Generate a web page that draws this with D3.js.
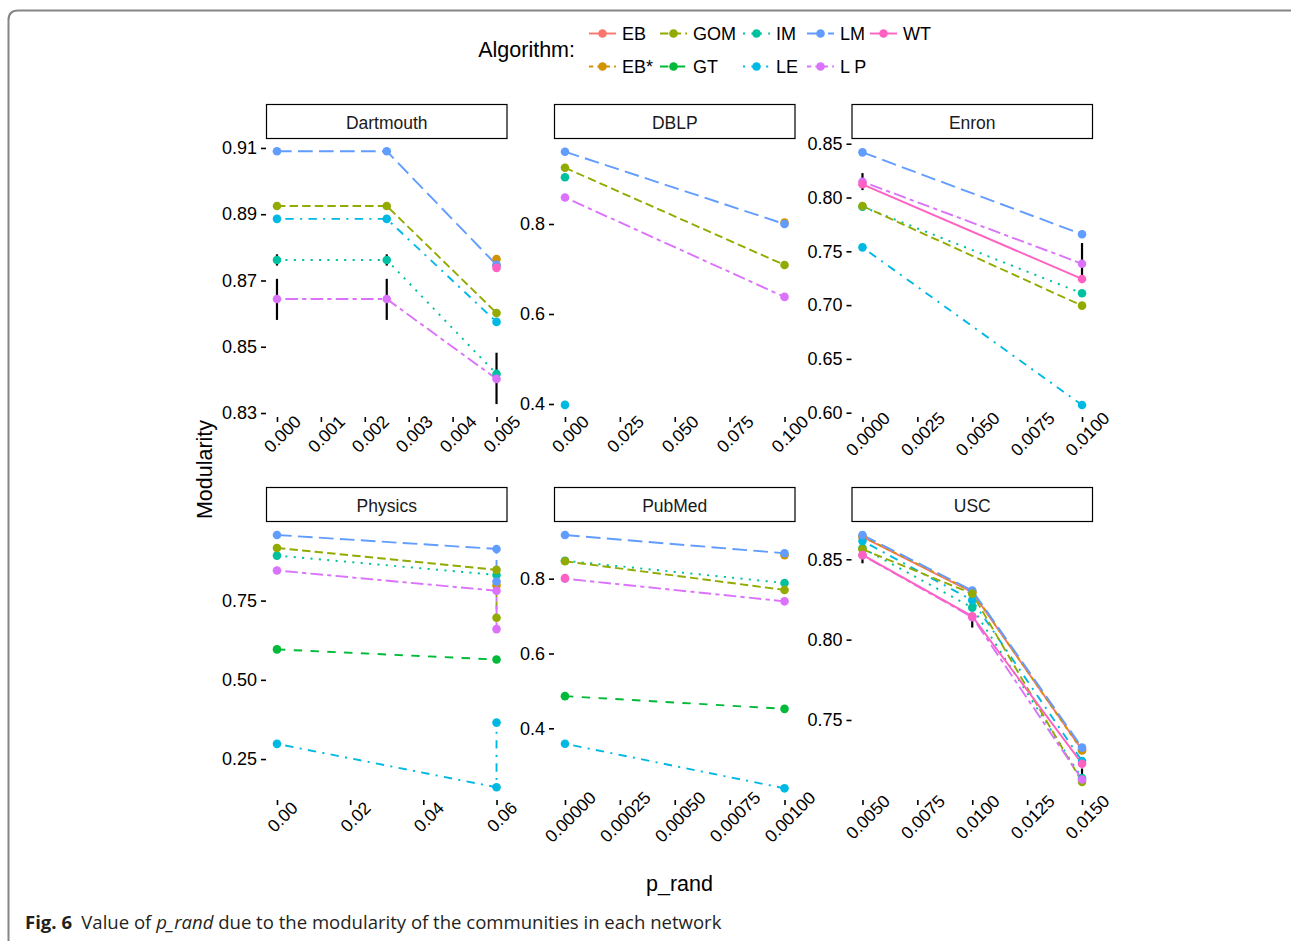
<!DOCTYPE html>
<html><head><meta charset="utf-8">
<script src="https://cdn.jsdelivr.net/npm/d3@7"></script>
<style>html,body{margin:0;padding:0;background:#fff;}</style>
</head><body>
<script>
// ---------- data ----------
const algorithms = ["EB","EB*","GOM","GT","IM","LE","LM","LP","WT"];
const algColors  = ["#F8766D","#D39200","#93AA00","#00BA38","#00C19F","#00B9E3","#619CFF","#DB72FB","#FF61C3"];
const algDash    = ["", "2 2", "4 2", "4 4", "1 3", "1 3 4 3", "7 3", "2 2 6 2", ""];
const drawOrder  = ["EB","EB*","GT","IM","LE","LM","GOM","LP","WT"];

const panelNames = ["Dartmouth","DBLP","Enron","Physics","PubMed","USC"];

const dartmouthSeries = [
  ["LM",  [[0,0.909],[0.0025,0.909],[0.005,0.8747]]],
  ["GOM", [[0,0.8925],[0.0025,0.8925],[0.005,0.8602]]],
  ["LE",  [[0,0.8886],[0.0025,0.8886],[0.005,0.8575]]],
  ["IM",  [[0,0.8762],[0.0025,0.8762],[0.005,0.8418]]],
  ["LP",  [[0,0.8644],[0.0025,0.8644],[0.005,0.8403]]],
  ["EB*", [[0.005,0.8765]]],
  ["EB",  [[0.005,0.8745]]],
  ["WT",  [[0.005,0.8738]]]
];
const dartmouthErr = [[0,0.8745,0.8779],[0,0.8581,0.8705],[0.0025,0.8745,0.8779],[0.0025,0.8581,0.8705],[0.005,0.8327,0.8482]];

const dblpSeries = [
  ["LM",  [[0,0.9607],[0.1,0.800]]],
  ["EB*", [[0.1,0.803]]],
  ["GOM", [[0,0.925],[0.1,0.709]]],
  ["IM",  [[0,0.904]]],
  ["LP",  [[0,0.859],[0.1,0.638]]],
  ["LE",  [[0,0.398]]]
];
const dblpErr = [[0.1,0.632,0.646]];

const enronSeries = [
  ["LM",  [[0,0.842],[0.01,0.7658]]],
  ["LP",  [[0,0.8147],[0.01,0.7385]]],
  ["WT",  [[0,0.8123],[0.01,0.7243]]],
  ["IM",  [[0,0.7915],[0.01,0.711]]],
  ["GOM", [[0,0.7921],[0.01,0.6995]]],
  ["LE",  [[0,0.7537],[0.01,0.6071]]]
];
const enronErr = [[0,0.8069,0.8227],[0.01,0.7205,0.7577]];

const physicsSeries = [
  ["LM",  [[0,0.957],[0.06,0.913],[0.06,0.81]]],
  ["GOM", [[0,0.916],[0.06,0.847],[0.06,0.696]]],
  ["IM",  [[0,0.892],[0.06,0.831]]],
  ["LP",  [[0,0.845],[0.06,0.781],[0.06,0.66]]],
  ["GT",  [[0,0.596],[0.06,0.564]]],
  ["LE",  [[0,0.298],[0.06,0.161],[0.06,0.365]]],
  ["EB*", [[0.06,0.798]]]
];
const physicsErr = [];

const pubmedSeries = [
  ["LM",  [[0,0.9168],[0.001,0.868]]],
  ["EB*", [[0.001,0.863]]],
  ["GOM", [[0,0.8465],[0.001,0.770]]],
  ["IM",  [[0,0.848],[0.001,0.7885]]],
  ["LP",  [[0,0.800],[0.001,0.7395]]],
  ["WT",  [[0,0.802]]],
  ["GT",  [[0,0.486],[0.001,0.452]]],
  ["LE",  [[0,0.3588],[0.001,0.2395]]]
];
const pubmedErr = [];

const uscSeries = [
  ["EB",  [[0.005,0.8639],[0.01,0.8295],[0.015,0.7314]]],
  ["EB*", [[0.005,0.8642],[0.01,0.8300],[0.015,0.7310]]],
  ["LM",  [[0.005,0.8651],[0.01,0.8306],[0.015,0.7328]]],
  ["LE",  [[0.005,0.8614],[0.01,0.8245],[0.015,0.7245]]],
  ["GOM", [[0.005,0.8562],[0.01,0.8286],[0.015,0.7115]]],
  ["IM",  [[0.005,0.8570],[0.01,0.8199],[0.015,0.7138]]],
  ["WT",  [[0.005,0.8527],[0.01,0.8145],[0.015,0.7228]]],
  ["LP",  [[0.005,0.8525],[0.01,0.8140],[0.015,0.7130]]]
];
const uscErr = [[0.005,0.8475,0.8538],[0.01,0.8075,0.8143],[0.015,0.7142,0.7198]];

// axis limits and ticks per panel
const xDomains = [[-0.00025,0.00525],[-0.005,0.105],[-0.0005,0.0105],[-0.003,0.063],[-0.00005,0.00105],[0.0045,0.0155]];
const yDomains = [[0.8288,0.9127],[0.3711,0.9889],[0.596,0.8544],[0.1208,0.998],[0.2083,0.9516],[0.7002,0.8732]];
const xTickVals = [
  [0,0.001,0.002,0.003,0.004,0.005],
  [0,0.025,0.05,0.075,0.1],
  [0,0.0025,0.005,0.0075,0.01],
  [0,0.02,0.04,0.06],
  [0,0.00025,0.0005,0.00075,0.001],
  [0.005,0.0075,0.01,0.0125,0.015]
];
const xTickFmt = [".3f",".3f",".4f",".2f",".5f",".4f"];
const yTickVals = [
  [0.83,0.85,0.87,0.89,0.91],
  [0.4,0.6,0.8],
  [0.60,0.65,0.70,0.75,0.80,0.85],
  [0.25,0.50,0.75],
  [0.4,0.6,0.8],
  [0.75,0.80,0.85]
];
const yTickFmt = [".2f",".1f",".2f",".2f",".1f",".2f"];

const allSeries = [dartmouthSeries, dblpSeries, enronSeries, physicsSeries, pubmedSeries, uscSeries];
const allErr = [dartmouthErr, dblpErr, enronErr, physicsErr, pubmedErr, uscErr];

// ---------- layout ----------
const W = 1291, H = 941;
const colLeft = [266, 554, 851.5];
const panelW = 241.5;
const stripTop = [104, 487];
const stripH = 35;
const panelBottom = [417, 800];
const dashUnit = 2.1;
const lineW = 1.9;
const ptR = 4.3;
const FONT = "'Liberation Sans', Arial, sans-serif";

const colorOf = a => algColors[algorithms.indexOf(a)];
const dashOf = a => { const d = algDash[algorithms.indexOf(a)]; return d ? d.split(" ").map(v => +v * dashUnit).join(" ") : null; };

const svg = d3.select("body").append("svg").attr("width", W).attr("height", H)
  .style("font-family", FONT);

// outer frame (top + left, rounded corner)
svg.append("path")
  .attr("d", `M8.5,941 L8.5,20 Q8.5,10.5 18,10.5 L1291,10.5`)
  .attr("fill","none").attr("stroke","#858585").attr("stroke-width",2);

panelNames.forEach((name, i) => {
  const r = Math.floor(i / 3), c = i % 3;
  const x0 = colLeft[c], x1 = x0 + panelW;
  const yTop = stripTop[r] + stripH, yBot = panelBottom[r];
  const g = svg.append("g");

  // strip
  g.append("rect").attr("x", x0 + 0.5).attr("y", stripTop[r] + 0.5)
    .attr("width", panelW - 1).attr("height", stripH - 1)
    .attr("fill","#fff").attr("stroke","#000").attr("stroke-width",1.2);
  g.append("text").attr("x", (x0 + x1) / 2).attr("y", stripTop[r] + stripH / 2 + 1)
    .attr("text-anchor","middle").attr("dominant-baseline","central")
    .attr("font-size", 17.5).attr("fill","#1a1a1a").text(name);

  const xs = d3.scaleLinear().domain(xDomains[i]).range([x0, x1]);
  const ys = d3.scaleLinear().domain(yDomains[i]).range([yBot, yTop]);

  // y axis (ticks + labels, no axis line)
  const yAx = g.append("g").attr("transform", `translate(${x0},0)`)
    .call(d3.axisLeft(ys).tickValues(yTickVals[i]).tickFormat(d3.format(yTickFmt[i])).tickSize(5).tickPadding(4));
  yAx.select(".domain").remove();
  yAx.selectAll(".tick line").attr("stroke","#000").attr("stroke-width",1.6);
  yAx.selectAll(".tick text").attr("font-size", 18).attr("fill","#000").attr("font-family", FONT);

  // x axis
  const xAx = g.append("g").attr("transform", `translate(0,${yBot})`)
    .call(d3.axisBottom(xs).tickValues(xTickVals[i]).tickFormat(d3.format(xTickFmt[i])).tickSize(5));
  xAx.select(".domain").remove();
  xAx.selectAll(".tick line").attr("stroke","#000").attr("stroke-width",1.6);
  xAx.selectAll(".tick text")
    .attr("font-size", 17.5).attr("fill","#000").attr("font-family", FONT)
    .attr("text-anchor","middle").attr("dominant-baseline","central")
    .attr("x", 0).attr("y", 0).attr("dy", null)
    .attr("transform", "translate(5,17) rotate(-45)");

  const seriesMap = new Map(allSeries[i]);
  const ordered = drawOrder.filter(a => seriesMap.has(a));

  // lines
  const line = d3.line().x(d => xs(d[0])).y(d => ys(d[1]));
  ordered.forEach(a => {
    const pts = seriesMap.get(a);
    if (pts.length < 2) return;
    g.append("path").attr("d", line(pts)).attr("fill","none")
      .attr("stroke", colorOf(a)).attr("stroke-width", lineW)
      .attr("stroke-dasharray", dashOf(a)).attr("stroke-linecap","butt");
  });

  // error bars
  g.selectAll("line.err").data(allErr[i]).enter().append("line")
    .attr("x1", d => xs(d[0])).attr("x2", d => xs(d[0]))
    .attr("y1", d => ys(d[1])).attr("y2", d => ys(d[2]))
    .attr("stroke","#000").attr("stroke-width",2.2);

  // points
  ordered.forEach(a => {
    g.selectAll(null).data(seriesMap.get(a)).enter().append("circle")
      .attr("cx", d => xs(d[0])).attr("cy", d => ys(d[1])).attr("r", ptR)
      .attr("fill", colorOf(a));
  });
});

// axis titles
svg.append("text").attr("transform", "translate(212,469.5) rotate(-90)")
  .attr("text-anchor","middle").attr("font-size", 21.5).attr("fill","#000").text("Modularity");
svg.append("text").attr("x", 679.5).attr("y", 891)
  .attr("text-anchor","middle").attr("font-size", 21.5).attr("fill","#000").text("p_rand");

// legend
svg.append("text").attr("x", 575).attr("y", 50).attr("text-anchor","end")
  .attr("dominant-baseline","central").attr("font-size", 21.5).attr("fill","#000").text("Algorithm:");
const legCols = [589, 660, 743, 807, 870];
const legRows = [33.5, 66.5];
algorithms.forEach((a, k) => {
  const col = Math.floor(k / 2), row = k % 2;
  const kx = legCols[col], ky = legRows[row];
  const lg = svg.append("g");
  lg.append("line").attr("x1", kx).attr("x2", kx + 27).attr("y1", ky).attr("y2", ky)
    .attr("stroke", colorOf(a)).attr("stroke-width", lineW).attr("stroke-dasharray", dashOf(a));
  lg.append("circle").attr("cx", kx + 13.5).attr("cy", ky).attr("r", ptR).attr("fill", colorOf(a));
  lg.append("text").attr("x", kx + 33).attr("y", ky).attr("dominant-baseline","central")
    .attr("font-size", 18).attr("fill","#000").text(a === "LP" ? "L P" : a);
});

// caption
const cap = svg.append("text").attr("x", 25).attr("y", 929)
  .attr("font-family","'Open Sans','Noto Sans',sans-serif").attr("font-size", 18).attr("fill","#231f20");
cap.append("tspan").attr("font-weight","bold").text("Fig. 6");
cap.append("tspan").text("\u2002Value of ");
cap.append("tspan").attr("font-style","italic").text("p_rand");
cap.append("tspan").text(" due to the modularity of the communities in each network");
const capW = cap.node().getComputedTextLength();
const sx = 697 / capW;
cap.attr("transform", `translate(${25 - 25 * sx},0) scale(${sx},1)`);
</script>
</body></html>
